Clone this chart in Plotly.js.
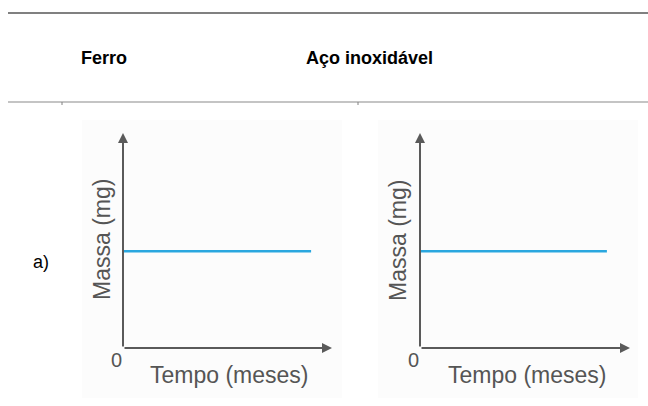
<!DOCTYPE html>
<html>
<head>
<meta charset="utf-8">
<script src="https://cdn.plot.ly/plotly-3.0.1.min.js"></script>
<style>html,body{margin:0;padding:0;background:#fff;}#chart{width:648px;height:406px;}</style>
</head>
<body>
<div id="chart"></div>
<script>
// Data
const columnHeaders = ["Ferro", "Aço inoxidável"];
const rowLabel = "a)";
const xTitle = "Tempo (meses)";
const yTitle = "Massa (mg)";
const originLabel = "0";
const tempoFerro = [0, 9];
const massaFerro = [4.5, 4.5];
const tempoAco = [0, 8.9];
const massaAco = [4.5, 4.5];
const axisMax = 10;

const W = 648, H = 406;
const px = v => v / W;
const py = v => 1 - v / H;

const traces = [
  {x: tempoFerro, y: massaFerro, xaxis: 'x', yaxis: 'y', mode: 'lines',
   line: {color: '#2aa7df', width: 2.5}, hoverinfo: 'skip', showlegend: false},
  {x: tempoAco, y: massaAco, xaxis: 'x2', yaxis: 'y2', mode: 'lines',
   line: {color: '#2aa7df', width: 2.5}, hoverinfo: 'skip', showlegend: false}
];

const axBase = {range: [0, axisMax], visible: false, fixedrange: true};
const layout = {
  width: W, height: H,
  margin: {l: 0, r: 0, t: 0, b: 0},
  paper_bgcolor: '#ffffff', plot_bgcolor: 'rgba(0,0,0,0)',
  font: {family: 'Liberation Sans, Arial, sans-serif'},
  xaxis: Object.assign({}, axBase, {domain: [px(123), px(332)], anchor: 'y'}),
  yaxis: Object.assign({}, axBase, {domain: [py(348), py(133)], anchor: 'x'}),
  xaxis2: Object.assign({}, axBase, {domain: [px(420), px(630)], anchor: 'y2'}),
  yaxis2: Object.assign({}, axBase, {domain: [py(348), py(133)], anchor: 'x2'}),
  shapes: [
    {type: 'rect', xref: 'paper', yref: 'paper', x0: px(82), x1: px(342), y0: py(398), y1: py(120),
     fillcolor: '#fcfcfc', line: {width: 0}, layer: 'below'},
    {type: 'rect', xref: 'paper', yref: 'paper', x0: px(378), x1: px(638), y0: py(398), y1: py(120),
     fillcolor: '#fcfcfc', line: {width: 0}, layer: 'below'},
    {type: 'line', xref: 'paper', yref: 'paper', x0: px(8), x1: 1, y0: py(13), y1: py(13),
     line: {color: '#808080', width: 2}},
    {type: 'line', xref: 'paper', yref: 'paper', x0: px(8), x1: 1, y0: py(102), y1: py(102),
     line: {color: '#8a8a8a', width: 1.2}},
    {type: 'line', xref: 'paper', yref: 'paper', x0: px(62), x1: px(62), y0: py(102), y1: py(105),
     line: {color: '#808080', width: 1}},
    {type: 'line', xref: 'paper', yref: 'paper', x0: px(358), x1: px(358), y0: py(102), y1: py(105),
     line: {color: '#808080', width: 1}}
  ],
  annotations: []
};

const arrowStyle = {showarrow: true, arrowhead: 2, arrowsize: 1, arrowwidth: 2, arrowcolor: '#5a5a5a', text: ''};
[['x', 'y'], ['x2', 'y2']].forEach(([xa, ya]) => {
  layout.annotations.push(Object.assign({}, arrowStyle, {xref: xa, yref: ya, axref: xa, ayref: ya,
    x: axisMax, y: 0, ax: 0, ay: 0}));
  layout.annotations.push(Object.assign({}, arrowStyle, {xref: xa, yref: ya, axref: xa, ayref: ya,
    x: 0, y: axisMax, ax: 0, ay: 0}));
});

const grayFont = {family: 'Liberation Sans, Arial, sans-serif', size: 23, color: '#555555'};
// headers
layout.annotations.push({xref: 'paper', yref: 'paper', x: px(79), y: py(58), xanchor: 'left', yanchor: 'middle',
  text: '<b>' + columnHeaders[0] + '</b>', showarrow: false, font: {size: 18, color: '#000'}});
layout.annotations.push({xref: 'paper', yref: 'paper', x: px(304), y: py(58), xanchor: 'left', yanchor: 'middle',
  text: '<b>' + columnHeaders[1] + '</b>', showarrow: false, font: {size: 18, color: '#000'}});
// row label
layout.annotations.push({xref: 'paper', yref: 'paper', x: px(31), y: py(262), xanchor: 'left', yanchor: 'middle',
  text: rowLabel, showarrow: false, font: {size: 18, color: '#000'}});
// per-chart labels
[{ax: 123, lx: 102, tx: 229}, {ax: 420, lx: 398, tx: 527}].forEach(c => {
  layout.annotations.push({xref: 'paper', yref: 'paper', x: px(c.lx), y: py(240), xanchor: 'center', yanchor: 'middle',
    text: yTitle, textangle: -90, showarrow: false, font: grayFont});
  layout.annotations.push({xref: 'paper', yref: 'paper', x: px(c.tx), y: py(375), xanchor: 'center', yanchor: 'middle',
    text: xTitle, showarrow: false, font: grayFont});
  layout.annotations.push({xref: 'paper', yref: 'paper', x: px(c.ax - 7), y: py(360), xanchor: 'center', yanchor: 'middle',
    text: originLabel, showarrow: false, font: Object.assign({}, grayFont, {size: 20})});
});

Plotly.newPlot('chart', traces, layout, {staticPlot: true, displayModeBar: false});
</script>
</body>
</html>
